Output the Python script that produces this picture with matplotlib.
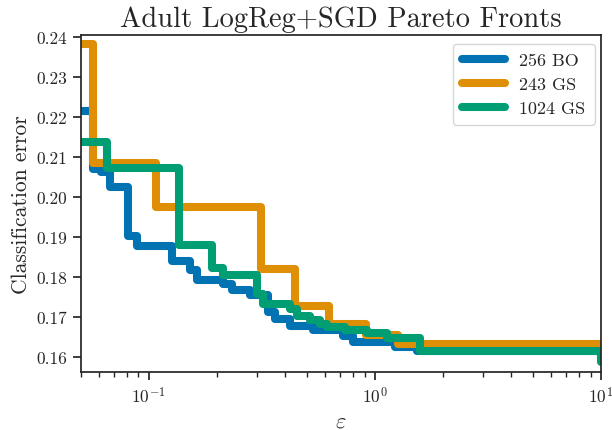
import matplotlib
matplotlib.use("Agg")
import matplotlib.pyplot as plt

# Pareto fronts: epsilon breakpoints and classification error (steps-post)
BO_256_EPS = [0.05, 0.0567, 0.0613, 0.067, 0.0807, 0.0882, 0.126, 0.152, 0.1626, 0.2126,
              0.233, 0.28, 0.336, 0.361, 0.4205, 0.532, 0.722, 0.799, 1.226, 1.534, 10]
BO_256_ERR = [0.2214, 0.2070, 0.2063, 0.2025, 0.1902, 0.1878, 0.1839, 0.1817, 0.1793, 0.1783,
              0.1766, 0.1754, 0.1712, 0.1695, 0.1678, 0.1666, 0.1653, 0.1637, 0.1624, 0.1615, 0.1615]

GS_243_EPS = [0.05, 0.0567, 0.108, 0.315, 0.4426, 0.626, 0.909, 1.264, 10]
GS_243_ERR = [0.2384, 0.2085, 0.1975, 0.1819, 0.1727, 0.1682, 0.1655, 0.1632, 0.1600]

GS_1024_EPS = [0.05, 0.0656, 0.1358, 0.1894, 0.2132, 0.2996, 0.3205, 0.4205, 0.450, 0.516,
               0.571, 0.611, 0.737, 0.919, 1.127, 1.58, 10]
GS_1024_ERR = [0.2138, 0.2073, 0.1880, 0.1821, 0.1804, 0.1758, 0.1733, 0.1720, 0.1703, 0.1691,
               0.1682, 0.1674, 0.1666, 0.1660, 0.1647, 0.1615, 0.1587]

COLORS = ["#0173b2", "#de8f05", "#029e73"]

plt.rcParams["font.family"] = "serif"
plt.rcParams["font.serif"] = ["cmr10"]
plt.rcParams["mathtext.fontset"] = "cm"
plt.rcParams["axes.unicode_minus"] = False
plt.rcParams["axes.formatter.use_mathtext"] = True

fig = plt.figure(figsize=(6.12, 4.31), dpi=100)
ax = fig.add_axes([0.132, 0.134, 0.850, 0.783])

lw = 5.8
kw = dict(where="post", lw=lw, solid_capstyle="round", solid_joinstyle="round")
ax.step(BO_256_EPS, BO_256_ERR, color=COLORS[0], label="256 BO", **kw)
ax.step(GS_243_EPS, GS_243_ERR, color=COLORS[1], label="243 GS", **kw)
ax.step(GS_1024_EPS, GS_1024_ERR, color=COLORS[2], label="1024 GS", **kw)

ax.set_xscale("log")
ax.set_xlim(0.05, 10)
ax.set_ylim(0.1561, 0.2406)
ax.set_yticks([0.16, 0.17, 0.18, 0.19, 0.20, 0.21, 0.22, 0.23, 0.24])
ax.set_yticklabels(["0.16", "0.17", "0.18", "0.19", "0.20", "0.21", "0.22", "0.23", "0.24"])

for s in ax.spines.values():
    s.set_color("#262626")
    s.set_linewidth(1.25)
ax.tick_params(which="major", length=6, width=1.25, color="#262626", labelsize=12.5,
               labelcolor="#262626")
ax.tick_params(which="minor", length=3.5, width=1.0, color="#262626")

ax.set_title("Adult LogReg+SGD Pareto Fronts", fontsize=20.5, color="#262626")
ax.set_xlabel(r"$\varepsilon$", fontsize=16, color="#262626")
ax.set_ylabel("Classification error", fontsize=15.5, color="#262626")

leg = ax.legend(loc="upper right", fontsize=13, frameon=True, fancybox=True,
                handlelength=2.4, borderpad=0.5, labelspacing=0.45,
                bbox_to_anchor=(1.005, 1.0))
leg.get_frame().set_edgecolor("#cccccc")
for t in leg.get_texts():
    t.set_color("#262626")

fig.savefig("out.png", dpi=100)
